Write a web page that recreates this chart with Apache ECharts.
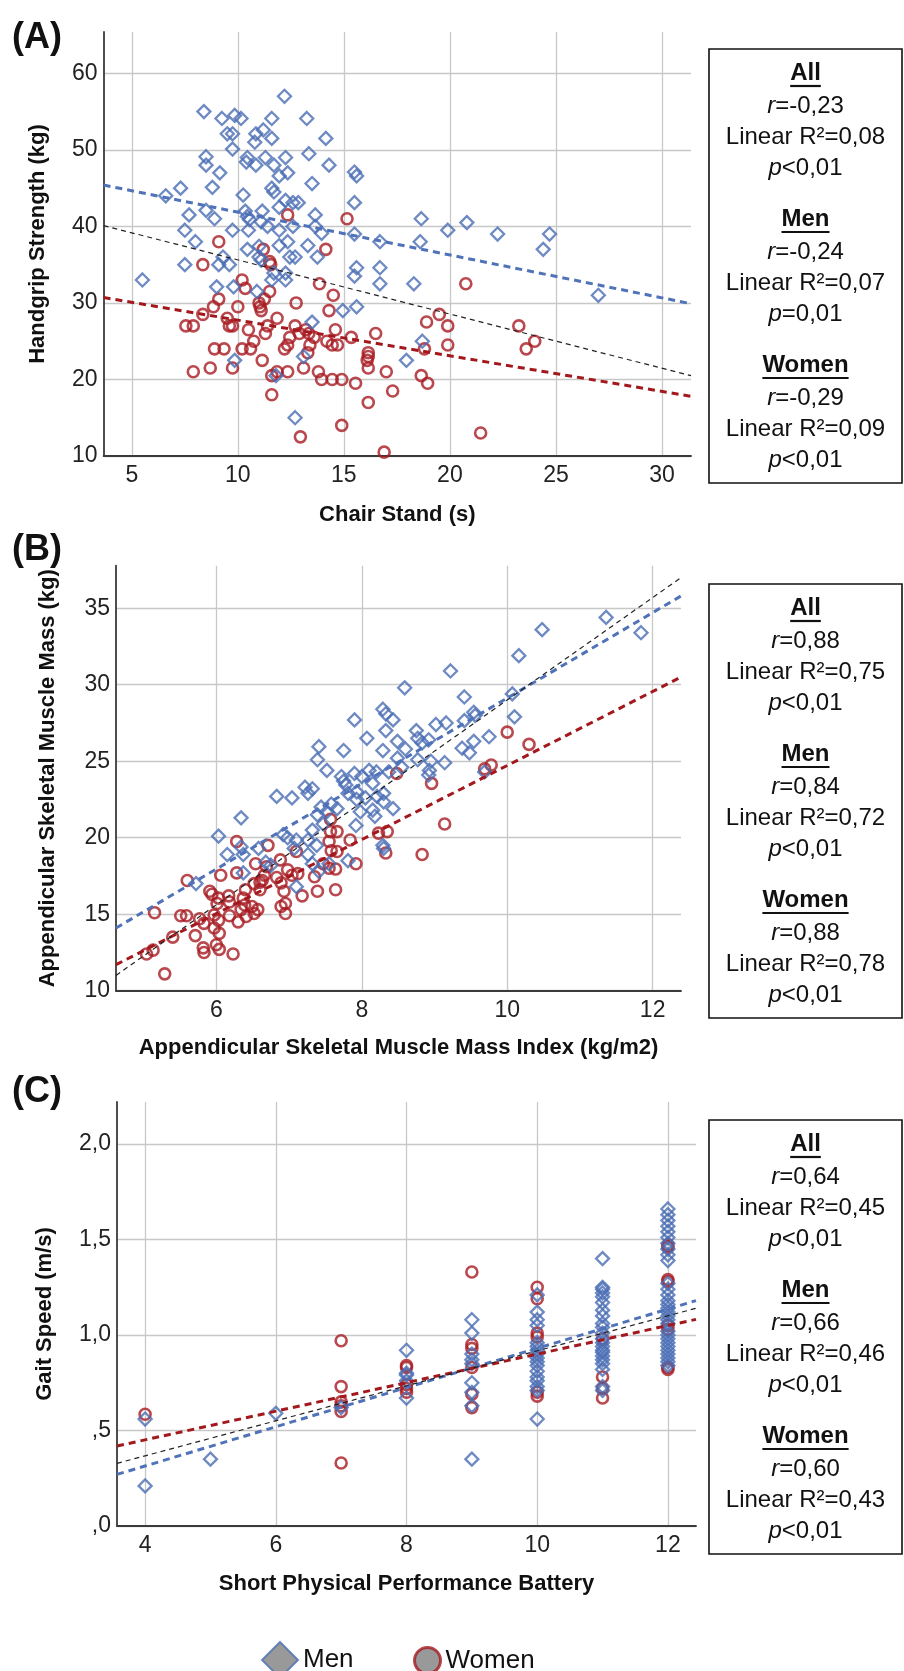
<!DOCTYPE html>
<html>
<head>
<meta charset="utf-8">
<script src="https://cdn.jsdelivr.net/npm/echarts@6/dist/echarts.min.js"></script>
<style>
html,body{margin:0;padding:0;background:#fff;}
#chart{width:904px;height:1671px;}
</style>
</head>
<body>
<div id="chart"></div>
<script>
// ---------- DATA ----------
// Panel A: Chair Stand (s) vs Handgrip Strength (kg)
const aMen = [[5.5,33],[6.6,44],[7.3,45],[7.5,39.5],[7.7,41.5],[7.5,35],[8,38],[8.4,55],[8.5,49.1],[8.5,48],[8.5,42.1],[8.8,45.1],[8.9,41],[9,32.1],[9.15,47],[9.25,54.1],[9.1,35],[9.3,36],[9.5,52.1],[9.6,35],[9.75,50.1],[9.75,52.1],[9.85,54.5],[10.15,54.1],[9.75,39.5],[9.8,32.1],[9.85,22.5],[10.25,44.1],[10.35,42],[10.45,49],[10.4,48.4],[10.45,41.3],[10.55,40.9],[10.5,39.5],[10.45,37],[10.8,51],[10.85,52.1],[10.85,48],[10.9,31.5],[11,37.4],[11,36],[11.1,35.6],[11.1,40.6],[11.15,42],[11.2,52.6],[11.3,49],[11.4,40],[11.6,54.1],[11.6,51.5],[11.6,45],[11.7,48],[11.7,44.5],[11.6,33],[11.7,33.9],[11.8,20.5],[11.95,46.6],[11.95,42.5],[11.95,39.5],[11.95,37.5],[12.2,57],[12.25,49],[12.25,43.4],[12.35,47],[12.35,38],[12.25,33.9],[12.25,33],[12.45,36],[12.6,43.1],[12.6,40],[12.7,36],[12.85,43.1],[12.7,15],[13.25,54.1],[13.35,49.5],[13.3,37.5],[13.5,45.6],[13.5,27.5],[13.1,23],[13.65,41.5],[13.65,40],[13.75,36],[13.95,39.1],[14.15,51.5],[14.3,48],[14.95,29],[15.5,47.1],[15.6,46.6],[15.5,43.1],[15.5,39],[15.6,34.6],[15.5,33.5],[15.6,29.5],[16.7,38],[16.7,34.6],[16.7,32.5],[17.95,22.5],[18.3,32.5],[18.6,38],[18.65,41],[18.7,25],[19.9,39.5],[20.8,40.5],[22.25,39],[24.4,37],[24.7,39],[27,31]];
const aWomen = [[9.1,38],[8.35,35],[7.55,27],[7.9,27],[8.35,28.5],[8.9,24],[8.7,21.5],[7.9,21],[8.85,29.5],[9.1,30.5],[9.35,24],[9.5,28],[9.6,27],[9.75,27],[9.75,21.5],[10,29.5],[10.2,24],[10.2,33],[10.35,31.9],[10.5,26.5],[10.6,24],[10.75,25],[11,30],[11.05,29.5],[11.1,29],[11.15,22.5],[11.2,37],[11.25,30.5],[11.3,26],[11.4,27],[11.5,31.5],[11.5,35.4],[11.55,35],[11.6,20.5],[11.6,18],[11.85,28],[11.85,21],[12.2,24],[12.35,21],[12.35,41.5],[12.45,25.5],[12.35,24.5],[12.75,30],[12.7,27],[12.9,26],[12.95,12.5],[13.1,21.5],[13.2,26.5],[13.35,26],[13.4,24.5],[13.3,23.5],[13.6,25.5],[13.8,21],[13.85,32.5],[13.95,20],[14.15,37],[14.2,25],[14.3,29],[14.45,20],[14.45,24.5],[14.5,31],[14.6,26.5],[14.7,24.5],[14.9,20],[14.9,14],[15.15,41],[15.35,25.5],[15.55,19.5],[16.1,22.5],[16.15,23.5],[16.15,23],[16.15,21.5],[16.15,17],[16.5,26],[16.9,10.5],[17,21],[17.3,18.5],[18.65,20.5],[18.8,24],[18.9,27.5],[18.95,19.5],[19.5,28.5],[19.9,27],[19.9,24.5],[20.75,32.5],[21.45,13],[23.25,27],[23.6,24],[24,25]];
const aFitMen = [[3.67,45.4],[31.37,29.9]];
const aFitWomen = [[3.67,30.7],[31.37,17.8]];
const aFitAll = [[3.67,40.1],[31.37,20.5]];
const aXTicks = [5,10,15,20,25,30];
const aYTicks = [10,20,30,40,50,60];

// Panel B: ASMM index (kg/m2) vs ASMM (kg)
const bMen = [[11.36,34.4],[10.48,33.6],[11.84,33.4],[10.16,31.9],[9.22,30.9],[8.59,29.8],[9.41,29.2],[10.07,29.4],[8.29,28.4],[8.33,28.1],[8.43,27.7],[7.9,27.7],[9.54,28.2],[9.56,28],[10.1,27.9],[9.41,27.65],[8.75,27],[8.33,27],[9.02,27.4],[9.16,27.5],[9.75,26.6],[8.07,26.5],[8.49,26.3],[8.77,26.5],[8.92,26.4],[9.54,26.3],[8.6,25.8],[8.83,26.2],[7.41,25.95],[7.75,25.7],[8.29,25.7],[9.38,25.85],[9.48,25.55],[7.39,25.1],[8.49,25.2],[8.77,25.1],[8.95,25],[9.14,24.9],[7.52,24.4],[8.55,24.6],[8.93,24.4],[8.92,24.1],[9.69,24.3],[8.1,24.4],[8.2,24.3],[8.37,24.3],[7.72,24],[7.9,24.2],[8,24],[7.75,23.7],[7.78,23.45],[8.15,23.55],[7.22,23.3],[7.32,23.2],[7.26,22.9],[6.83,22.7],[7.04,22.6],[7.81,22.9],[7.93,23],[8.3,22.9],[8.05,22.6],[8.21,22.7],[8.3,22.35],[7.93,22.5],[7.58,22.2],[7.44,22],[7.66,21.9],[8.43,21.9],[7.52,21.7],[7.39,21.5],[7.98,21.7],[8.15,21.8],[8.18,21.4],[6.34,21.3],[7.47,20.9],[7.92,20.8],[7.32,20.5],[6.03,20.1],[6.92,20.2],[6.98,20],[7.1,19.85],[7.26,19.85],[6.34,19.4],[6.58,19.3],[7.38,19.5],[7.07,19.3],[8.29,19.5],[8.3,19.3],[6.15,18.9],[6.37,18.9],[6.68,18.4],[7.26,18.9],[7.81,18.5],[7.32,18.3],[6.75,18.2],[6.37,17.7],[7.41,17.8],[5.72,17],[7.1,16.8],[7.55,18.3]];
const bWomen = [[10,26.9],[10.3,26.1],[9.78,24.75],[9.69,24.5],[8.48,24.2],[8.96,23.55],[9.14,20.9],[7.57,21.2],[7.57,20.4],[7.66,20.4],[8.23,20.3],[8.35,20.4],[7.55,19.75],[7.84,19.85],[6.71,19.5],[6.28,19.75],[7.58,19.15],[7.66,19.1],[8.33,19],[8.83,18.9],[7.1,19.1],[7.92,18.3],[6.54,18.3],[6.88,18.55],[7.47,18.3],[7.55,18],[7.64,17.95],[6.98,17.9],[6.28,17.7],[6.06,17.55],[6.66,17.55],[6.83,17.4],[7.04,17.55],[7.35,17.45],[7.12,17.65],[6.63,17.2],[6.6,17.1],[6.52,17],[5.6,17.2],[6.89,17.05],[6.4,16.6],[6.6,16.6],[6.93,16.5],[7.64,16.6],[7.39,16.5],[5.91,16.5],[6.17,16.2],[5.94,16.3],[6.03,16.05],[6.37,16.05],[7.18,16.2],[6.18,15.8],[6.01,15.7],[6.39,15.6],[6.49,15.5],[6.95,15.7],[6.89,15.5],[6.34,15.3],[6.57,15.3],[6.52,15.05],[6.95,15.05],[5.97,14.95],[5.51,14.9],[5.59,14.9],[5.15,15.1],[6.18,14.9],[6.41,14.85],[5.77,14.7],[6.03,14.6],[5.83,14.4],[6.3,14.5],[5.97,14.1],[6.04,13.75],[5.4,13.5],[5.71,13.6],[6,13],[6.04,12.7],[5.82,12.8],[5.83,12.5],[5.13,12.65],[5.04,12.4],[6.23,12.4],[5.29,11.1],[6.69,18.1]];
const bFitMen = [[4.62,14.1],[12.39,35.8]];
const bFitWomen = [[4.62,11.7],[12.39,30.5]];
const bFitAll = [[4.62,11.0],[12.39,37.0]];
const bXTicks = [6,8,10,12];
const bYTicks = [10,15,20,25,30,35];

// Panel C: SPPB score vs Gait Speed (m/s)
const cMen = [[4,0.56],[4,0.21],[5,0.35],[6,0.59],[7,0.62],
 [8,0.92],[8,0.80],[8,0.79],[8,0.76],[8,0.67],
 [9,1.08],[9,1.01],[9,0.90],[9,0.87],[9,0.85],[9,0.75],[9,0.70],[9,0.63],[9,0.35],
 [10,1.21],[10,1.12],[10,1.08],[10,1.05],[10,0.96],[10,0.94],[10,0.92],[10,0.90],[10,0.88],[10,0.86],[10,0.84],[10,0.81],[10,0.78],[10,0.76],[10,0.73],[10,0.71],[10,0.56],
 [11,1.40],[11,1.25],[11,1.24],[11,1.22],[11,1.20],[11,1.17],[11,1.13],[11,1.10],[11,1.06],[11,1.04],[11,1.01],[11,0.98],[11,0.96],[11,0.94],[11,0.92],[11,0.91],[11,0.89],[11,0.87],[11,0.85],[11,0.82],[11,0.73],[11,0.71],
 [12,1.66],[12,1.63],[12,1.60],[12,1.57],[12,1.54],[12,1.51],[12,1.48],[12,1.45],[12,1.42],[12,1.39],[12,1.27],[12,1.24],[12,1.21],[12,1.18],[12,1.16],[12,1.14],[12,1.12],[12,1.10],[12,1.08],[12,1.06],[12,1.02],[12,1.00],[12,0.98],[12,0.96],[12,0.94],[12,0.92],[12,0.90],[12,0.88],[12,0.86],[12,0.84]];
const cWomen = [[4,0.585],[7,0.97],[7,0.73],[7,0.65],[7,0.63],[7,0.60],[7,0.33],
 [8,0.84],[8,0.83],[8,0.74],[8,0.72],[8,0.70],
 [9,1.33],[9,0.95],[9,0.93],[9,0.83],[9,0.69],[9,0.62],
 [10,1.25],[10,1.19],[10,1.01],[10,0.99],[10,0.70],[10,0.68],
 [11,0.98],[11,0.78],[11,0.72],[11,0.67],
 [12,1.47],[12,1.46],[12,1.29],[12,1.28],[12,1.05],[12,1.03],[12,0.83],[12,0.82]];
const cFitMen = [[3.57,0.27],[12.43,1.18]];
const cFitWomen = [[3.57,0.419],[12.43,1.082]];
const cFitAll = [[3.57,0.328],[12.43,1.14]];
const cXTicks = [4,6,8,10,12];
const cYTicks = [0,0.5,1,1.5,2];
const cYLabels = [',0',',5','1,0','1,5','2,0'];

// Statistics boxes
const groupNames = ['All','Men','Women'];
const aR = ['-0,23','-0,24','-0,29'], aR2 = ['0,08','0,07','0,09'], aP = ['<0,01','=0,01','<0,01'];
const bR = ['0,88','0,84','0,88'], bR2 = ['0,75','0,72','0,78'], bP = ['<0,01','<0,01','<0,01'];
const cR = ['0,64','0,66','0,60'], cR2 = ['0,45','0,46','0,43'], cP = ['<0,01','<0,01','<0,01'];

const panelLabels = ['(A)','(B)','(C)'];
const xTitles = ['Chair Stand (s)','Appendicular Skeletal Muscle Mass Index (kg/m2)','Short Physical Performance Battery'];
const yTitles = ['Handgrip Strength (kg)','Appendicular Skeletal Muscle Mass (kg)','Gait Speed (m/s)'];

// ---------- STYLE ----------
const FONT = '"Liberation Sans", Arial, sans-serif';
const BLUE = '#4a6db4';
const RED = '#a81c22';
const GRID_C = '#c8c8c8';
const AXIS_C = '#3a3a3a';

const grids = [
  {left:103.6, top:32, width:587.4, height:424},
  {left:116, top:565.7, width:565, height:425},
  {left:117, top:1102, width:579, height:424}
];
const xRanges = [[3.67,31.37],[4.62,12.39],[3.57,12.43]];
const yRanges = [[10,65.4],[10,37.78],[0,2.22]];
const xTicks = [aXTicks,bXTicks,cXTicks];
const yTicks = [aYTicks,bYTicks,cYTicks];
const xNameGap = [48,46,47];
const yNameGap = [55,57,61];

function xAxis(i){
  return {
    type:'value', gridIndex:i, min:xRanges[i][0], max:xRanges[i][1],
    name:xTitles[i], nameLocation:'middle', nameGap:xNameGap[i],
    nameTextStyle:{fontFamily:FONT, fontWeight:'bold', fontSize:22, color:'#111', verticalAlign:'top'},
    axisLine:{show:true, onZero:false, lineStyle:{color:AXIS_C, width:1.8}},
    axisTick:{show:false, customValues:xTicks[i]},
    axisLabel:{customValues:xTicks[i], fontFamily:FONT, fontSize:23, color:'#222', margin:8},
    splitLine:{show:true, lineStyle:{color:GRID_C, width:1.3}}
  };
}
function yAxis(i){
  return {
    type:'value', gridIndex:i, min:yRanges[i][0], max:yRanges[i][1],
    name:yTitles[i], nameLocation:'middle', nameGap:yNameGap[i],
    nameTextStyle:{fontFamily:FONT, fontWeight:'bold', fontSize:22, color:'#111'},
    axisLine:{show:true, onZero:false, lineStyle:{color:AXIS_C, width:1.8}},
    axisTick:{show:false, customValues:yTicks[i]},
    axisLabel:{customValues:yTicks[i], fontFamily:FONT, fontSize:23, color:'#222', margin:6,
      formatter: i===2 ? (v)=>cYLabels[cYTicks.indexOf(Math.round(v*10)/10)] : null},
    splitLine:{show:true, lineStyle:{color:GRID_C, width:1.3}}
  };
}

const menData = [aMen,bMen,cMen], womenData=[aWomen,bWomen,cWomen];
const fitMen=[aFitMen,bFitMen,cFitMen], fitWomen=[aFitWomen,bFitWomen,cFitWomen], fitAll=[aFitAll,bFitAll,cFitAll];
const series=[];
for(let i=0;i<3;i++){
  series.push({type:'scatter', name:'Women', xAxisIndex:i, yAxisIndex:i, data:womenData[i],
    symbol:'circle', symbolSize:11, z:3,
    itemStyle:{color:'rgba(255,255,255,0)', borderColor:RED, borderWidth:2.6}});
  series.push({type:'scatter', name:'Men', xAxisIndex:i, yAxisIndex:i, data:menData[i],
    symbol:'diamond', symbolSize:13, z:4,
    itemStyle:{color:'rgba(255,255,255,0)', borderColor:BLUE, borderWidth:2.3}});
  series.push({type:'line', name:'fitMen'+i, xAxisIndex:i, yAxisIndex:i, data:fitMen[i], symbol:'none', z:5,
    silent:true, lineStyle:{color:'#4f72b8', width:3, type:[7,5]}});
  series.push({type:'line', name:'fitWomen'+i, xAxisIndex:i, yAxisIndex:i, data:fitWomen[i], symbol:'none', z:5,
    silent:true, lineStyle:{color:'#a3181d', width:3, type:[7,5]}});
  series.push({type:'line', name:'fitAll'+i, xAxisIndex:i, yAxisIndex:i, data:fitAll[i], symbol:'none', z:5,
    silent:true, lineStyle:{color:'#222', width:1.2, type:[5,4]}});
}

// ---------- GRAPHICS (labels + stats boxes) ----------
const measureCtx = document.createElement('canvas').getContext('2d');
function textWidth(t, font){ measureCtx.font = font; return measureCtx.measureText(t).width; }

const graphic=[];
const labelY=[38,550,1092];
panelLabels.forEach((t,i)=>{
  graphic.push({type:'text', z:11, style:{text:t, x:12, y:labelY[i], verticalAlign:'middle', fill:'#111',
    font:'bold 36px '+FONT}});
});

const boxTops=[49,584,1120];
const boxH=434;
const boxStats=[[aR,aR2,aP],[bR,bR2,bP],[cR,cR2,cP]];
const BOX_L=709, BOX_R=902, CX=(BOX_L+BOX_R)/2;
boxTops.forEach((top,b)=>{
  graphic.push({type:'rect', shape:{x:BOX_L, y:top, width:BOX_R-BOX_L, height:boxH},
    style:{fill:'#fff', stroke:'#111', lineWidth:1.6}, z:10});
  const [rArr,r2Arr,pArr]=boxStats[b];
  groupNames.forEach((g,k)=>{
    const y0=top+24+k*146;
    const hf='bold 24px '+FONT;
    graphic.push({type:'text', z:11, style:{text:g, x:CX, y:y0, align:'center', verticalAlign:'middle', font:hf, fill:'#111'}});
    const w=textWidth(g,hf);
    graphic.push({type:'line', z:11, shape:{x1:CX-w/2, y1:y0+13, x2:CX+w/2, y2:y0+13}, style:{stroke:'#111', lineWidth:2.2}});
    const rich={i:{fontStyle:'italic', fontSize:24, fontFamily:FONT, fill:'#111'}, n:{fontSize:24, fontFamily:FONT, fill:'#111'}};
    graphic.push({type:'text', z:11, style:{text:'{i|r}{n|='+rArr[k]+'}', x:CX, y:y0+33, align:'center', verticalAlign:'middle', font:'24px '+FONT, fill:'#111', rich}});
    graphic.push({type:'text', z:11, style:{text:'Linear R\u00B2='+r2Arr[k], x:CX, y:y0+64, align:'center', verticalAlign:'middle', font:'24px '+FONT, fill:'#111'}});
    graphic.push({type:'text', z:11, style:{text:'{i|p}{n|'+pArr[k]+'}', x:CX, y:y0+95, align:'center', verticalAlign:'middle', font:'24px '+FONT, fill:'#111', rich}});
  });
});

const option={
  animation:false,
  backgroundColor:'#fff',
  grid:grids.map(g=>Object.assign({containLabel:false}, g)),
  xAxis:[0,1,2].map(xAxis),
  yAxis:[0,1,2].map(yAxis),
  legend:[
    {data:[{name:'Men', icon:'diamond'}], left:256, top:1636, itemWidth:36, itemHeight:36, selectedMode:false,
     itemStyle:{color:'#7f7f7f', borderColor:'#4c6fb3', borderWidth:2},
     textStyle:{fontFamily:FONT, fontSize:26, color:'#111'}},
    {data:[{name:'Women', icon:'circle'}], left:408, top:1641, itemWidth:26, itemHeight:26, selectedMode:false,
     itemStyle:{color:'#7f7f7f', borderColor:'#a31a1f', borderWidth:3},
     textStyle:{fontFamily:FONT, fontSize:26, color:'#111'}}
  ],
  series,
  graphic
};
const chart=echarts.init(document.getElementById('chart'),null,{renderer:'canvas'});
chart.setOption(option);
</script>
</body>
</html>
